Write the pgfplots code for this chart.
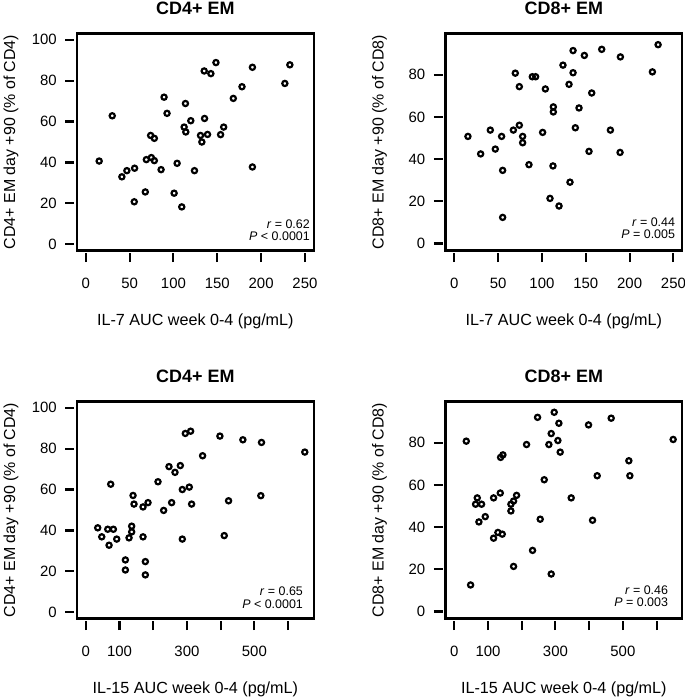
\documentclass[border=0pt]{standalone}
\usepackage{fontspec}
\setmainfont{Liberation Sans}
\usepackage{pgfplots}
\pgfplotsset{compat=1.18}

\pgfplotsset{
  rstyle/.style={
    scale only axis, width=236.7bp, height=217bp,
    axis line style={line width=2.1bp},
    tick align=outside, major tick length=9bp,
    tick style={line width=2.1bp, black},
    xtick style={yshift=-2.7bp},
    ytick style={xshift=-2.7bp},
    xtick pos=bottom, ytick pos=left,
    /pgf/number format/assume math mode=true,
    ticklabel style={font=\fontsize{15}{18}\selectfont},
    xticklabel style={anchor=north, inner sep=0pt},
    yticklabel style={anchor=east, inner sep=0pt},
    xticklabel shift=18bp, yticklabel shift=11bp,
    every axis title/.style={font=\bfseries\fontsize{18}{20}\selectfont, at={(axis description cs:0.5,1)}, anchor=base, yshift=18.8bp, inner sep=0pt},
    every axis x label/.style={font=\fontsize{16.2}{19}\selectfont, at={(axis description cs:0.5,0)}, anchor=base, yshift=-74.5bp, inner sep=0pt},
    every axis y label/.style={font=\fontsize{16}{19}\selectfont, at={(axis description cs:0,0.5)}, rotate=90, anchor=base, yshift=62bp, inner sep=0pt},
    clip=false,
  },
  rmark/.style={only marks, mark=o, mark size=2.6bp, mark options={line width=2.2bp, black}},
}
\newcommand{\anno}[4]{%
  \node[anchor=base east, inner sep=0pt, font=\fontsize{12.5}{14}\selectfont] at ([xshift=-#1, yshift=#2+12.4bp]rel axis cs:1,0) {#3};
  \node[anchor=base east, inner sep=0pt, font=\fontsize{12.5}{14}\selectfont] at ([xshift=-#1, yshift=#2]rel axis cs:1,0) {#4};
}

\begin{document}
\begin{tikzpicture}
\useasboundingbox (0,0) rectangle (685bp,-697bp);

% Panel 1
\begin{axis}[rstyle, at={(77bp,-250.5bp)}, anchor=south west,
  xmin=-10, xmax=260, ymin=-3, ymax=103,
  xtick={0,50,100,150,200,250}, ytick={0,20,40,60,80,100},
  title={CD4+ EM}, xlabel={IL-7 AUC week 0-4 (pg/mL)}, ylabel={CD4+ EM day +90 (\% of CD4)}]
\addplot[rmark] coordinates {
(15.3,40.7) (30.2,62.8) (41.2,33.0) (46.9,36.0) (55.7,37.2) (55.3,20.8)
(67.9,25.6) (69.1,41.4) (74.8,42.4) (78.2,40.9) (74.0,53.2) (78.2,51.8)
(85.9,36.5) (89.3,71.9) (92.7,64.0) (100.8,25.0) (104.2,39.6) (109.5,18.3)
(113.7,68.8) (112.2,57.3) (114.1,54.9) (119.8,60.4) (124.0,36.0) (130.9,53.2)
(132.4,50.0) (135.1,84.7) (135.5,61.5) (138.9,53.7) (142.7,83.4) (148.5,88.8)
(153.8,53.6) (157.3,57.3) (168.3,71.3) (178.2,77.0) (190.1,86.5) (190.1,37.8)
(227.1,78.6) (232.8,87.7)
};
\anno{3.7bp}{9.8bp}{\textit{r} = 0.62}{\textit{P} < 0.0001}
\end{axis}

% Panel 2
\begin{axis}[rstyle, at={(445.5bp,-250.5bp)}, anchor=south west,
  xmin=-10, xmax=260, ymin=-3.3, ymax=99.6,
  xtick={0,50,100,150,200,250}, ytick={0,20,40,60,80},
  title={CD8+ EM}, xlabel={IL-7 AUC week 0-4 (pg/mL)}, ylabel={CD8+ EM day +90 (\% of CD8)}]
\addplot[rmark] coordinates {
(15.6,50.8) (30.1,42.5) (41.1,53.8) (46.8,44.8) (54.0,50.8) (55.2,34.7)
(55.2,12.4) (67.4,53.8) (69.6,80.8) (74.2,56.1) (74.2,74.4) (78.0,50.8)
(78.0,47.8) (85.2,37.4) (89.0,79.1) (92.8,79.1) (100.8,52.7) (103.9,73.3)
(109.2,21.4) (113.0,64.8) (113.0,62.4) (112.6,36.8) (119.5,17.8) (124.0,84.6)
(130.9,75.5) (132.0,29.1) (135.5,91.5) (135.5,81.0) (138.1,54.9) (142.3,64.3)
(148.4,89.2) (153.7,43.7) (156.8,71.4) (168.2,92.1) (178.1,53.8) (189.5,88.5)
(189.1,43.2) (226.0,81.4) (232.5,94.3)
};
\anno{7bp}{12bp}{\textit{r} = 0.44}{\textit{P} = 0.005}
\end{axis}

% Panel 3
\begin{axis}[rstyle, at={(77bp,-618.5bp)}, anchor=south west,
  xmin=-26, xmax=676, ymin=-3, ymax=103,
  xtick={0,100,200,300,400,500,600}, xticklabels={0,100,,300,,500,},
  ytick={0,20,40,60,80,100},
  title={CD4+ EM}, xlabel={IL-15 AUC week 0-4 (pg/mL)}, ylabel={CD4+ EM day +90 (\% of CD4)}]
\addplot[rmark] coordinates {
(35.5,41.3) (47.4,36.9) (65.2,40.6) (69.1,32.8) (74.0,62.6) (81.9,40.6)
(91.8,35.8) (117.5,25.6) (117.5,20.7) (128.3,36.4) (136.2,42.1) (136.2,39.3)
(140.2,57.1) (143.1,52.9) (169.8,36.9) (169.8,51.5) (176.7,24.8) (176.7,18.3)
(184.6,53.6) (214.2,63.8) (231.0,49.8) (246.8,71.2) (254.7,53.6) (264.6,68.4)
(280.4,71.7) (286.3,60.0) (286.3,35.8) (295.2,87.4) (307.0,61.2) (311.0,88.5)
(313.9,52.9) (346.5,76.5) (397.8,86.1) (410.7,37.5) (423.5,54.5) (466.0,84.3)
(519.2,57.0) (521.2,83.0) (649.6,78.3)
};
\anno{10.6bp}{10.2bp}{\textit{r} = 0.65}{\textit{P} < 0.0001}
\end{axis}

% Panel 4
\begin{axis}[rstyle, at={(445.5bp,-618.5bp)}, anchor=south west,
  xmin=-26, xmax=676, ymin=-3.3, ymax=99.6,
  xtick={0,100,200,300,400,500,600}, xticklabels={0,100,,300,,500,},
  ytick={0,20,40,60,80},
  title={CD8+ EM}, xlabel={IL-15 AUC week 0-4 (pg/mL)}, ylabel={CD8+ EM day +90 (\% of CD8)}]
\addplot[rmark] coordinates {
(35.6,80.8) (48.4,12.6) (68.2,53.9) (63.2,50.9) (81.0,50.9) (73.1,42.5)
(91.9,45.0) (116.6,53.9) (116.6,34.8) (129.4,37.5) (142.3,36.7) (136.4,56.2)
(137.4,73.1) (144.3,74.3) (168.0,47.7) (168.0,50.9) (175.9,52.4) (184.8,55.1)
(175.9,21.4) (214.4,79.2) (232.2,29.0) (247.0,92.1) (254.9,43.8) (266.8,62.5)
(280.6,79.2) (287.5,84.4) (287.5,17.8) (296.4,94.5) (307.3,81.1) (310.3,89.3)
(314.2,75.6) (346.8,53.9) (398.2,88.5) (410.1,43.3) (423.9,64.4) (465.4,91.7)
(517.8,71.5) (520.8,64.4) (649.2,81.6)
};
\anno{14bp}{11.8bp}{\textit{r} = 0.46}{\textit{P} = 0.003}
\end{axis}
\end{tikzpicture}
\end{document}
